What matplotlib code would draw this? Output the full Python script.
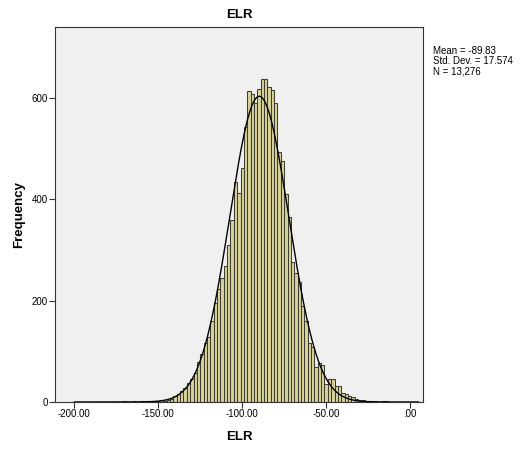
import matplotlib.pyplot as plt
import numpy as np

plt.rcParams['font.family'] = ['Liberation Sans', 'DejaVu Sans']

# bin centres (width 2) and counts
centers = list(range(-170, -12, 2))
counts = [1, 0, 0, 1, 0, 1, 1, 1, 2, 1, 2, 3,
          2, 4, 6, 11, 16, 21, 28, 38, 46,
          58, 78, 95, 116, 128, 160, 195, 222, 245, 268,
          310, 359, 433, 413, 462,
          542, 614, 607, 590, 617, 636, 636, 622, 615, 589,
          492, 476, 411, 365, 277, 255, 236, 189, 160, 117,
          109, 68, 76, 72, 35, 45, 45, 31, 31, 18,
          15, 12, 10, 6, 4, 3, 2, 1, 2, 1, 0, 1, 1]

mean, sd, n = -89.83, 17.574, 13276
bin_w = 2
x_ticks = [-200, -150, -100, -50, 0]
x_ticklabels = ['-200.00', '-150.00', '-100.00', '-50.00', '.00']
y_ticks = [0, 200, 400, 600]

fig = plt.figure(figsize=(5.2, 4.5), dpi=100)
ax = fig.add_axes([0.1058, 0.1067, 0.7077, 0.834])
ax.set_facecolor('#F0F0F0')

ax.bar(centers, counts, width=bin_w, color='#D8D29C', edgecolor='#3E3E30',
       linewidth=0.75)

# fitted normal curve
xs = np.linspace(-200, 5, 600)
ys = n * bin_w / (sd * np.sqrt(2 * np.pi)) * np.exp(-(xs - mean) ** 2 / (2 * sd ** 2))
ax.plot(xs, ys, color='black', linewidth=1.0)

ax.set_xlim(-211.5, 7.7)
ax.set_ylim(0, 740)
ax.set_xticks(x_ticks)
ax.set_xticklabels(x_ticklabels)
ax.set_yticks(y_ticks)
ax.tick_params(labelsize=7, length=4, width=0.8, color='#333333', pad=1)
for s in ax.spines.values():
    s.set_color('#333333')
    s.set_linewidth(0.8)

ax.set_title('ELR', fontsize=9.5, fontweight='bold', pad=6)
ax.set_xlabel('ELR', fontsize=9.5, fontweight='bold', labelpad=9)
ax.set_ylabel('Frequency', fontsize=9.5, fontweight='bold', labelpad=5)

fig.text(433 / 520, 1 - 46 / 450, 'Mean = -89.83\nStd. Dev. = 17.574\nN = 13,276',
         fontsize=7, va='top', ha='left', linespacing=1.0)

fig.savefig('out.png', dpi=100)
